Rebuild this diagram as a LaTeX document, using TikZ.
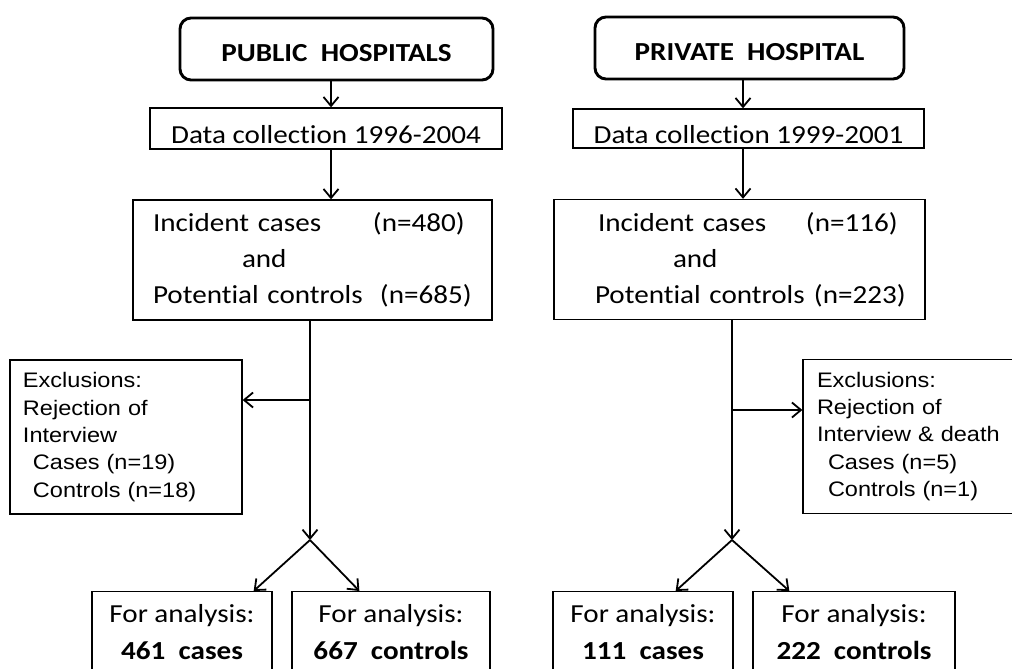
\documentclass[tikz,border=0pt]{standalone}
\usepackage{fontspec}
\setmainfont{Carlito}[FakeStretch=1.12, Ligatures=NoCommon]
\newfontfamily\arialfont{Liberation Sans}[FakeStretch=1.12]
\usetikzlibrary{arrows.meta,calc}

\newcommand{\tabat}[2]{\makebox[0pt][l]{\hspace*{#1}#2}}

\tikzset{
  hospbox/.style={draw, line width=2.9pt, rounded corners=11pt, minimum height=62pt, inner sep=0pt,
    text height=25.4pt, text depth=0pt, font=\bfseries\fontsize{26}{30}\selectfont},
  databox/.style={draw, line width=1.3pt, inner sep=0pt, font=\fontsize{26}{36}\selectfont},
  incbox/.style={databox, align=left, minimum height=120pt},
  exclbox/.style={draw, line width=1.3pt, inner ysep=0pt, align=left, minimum height=154pt,
    font=\arialfont\fontsize{21}{27.3}\selectfont},
  resbox/.style={draw, line width=1.3pt, anchor=north, align=center, inner xsep=0pt, inner ysep=13pt,
    font=\fontsize{26}{37}\selectfont},
  flow/.style={line width=1.8pt, -{Straight Barb[length=9pt,width=15pt]}},
}

\begin{document}
\begin{tikzpicture}[x=1pt, y=-1pt]
  \useasboundingbox (0,0) rectangle (1012,669);
  \clip (0,0) rectangle (1012,669);
  \fill[white] (0,0) rectangle (1012,669);

  % public hospitals
  \node[hospbox, minimum width=313pt] (pubHosp) at (336.5,49) {PUBLIC\ \ HOSPITALS};
  \node[databox, minimum width=352pt, minimum height=41pt, text height=29pt, text depth=0pt] (pubData) at (326,128.5) {Data collection 1996-2004};
  \node[incbox, text width=359pt] (pubInc) at (312.5,260)
    {\tabat{20pt}{Incident cases}\tabat{240pt}{(n=480)}\\
     \tabat{109pt}{and}\\
     \tabat{20pt}{Potential controls}\tabat{247pt}{(n=685)}};
  \node[exclbox, text width=206pt, inner xsep=13pt] (pubExcl) at (126,437)
    {Exclusions:\\ Rejection of\\ Interview\\ \hspace*{10pt}Cases (n=19)\\ \hspace*{10pt}Controls (n=18)};
  \node[resbox, minimum width=180pt] (pubCases) at (182,591) {For analysis:\\ \textbf{461\ \ cases}\rule[-40pt]{0pt}{40pt}};
  \node[resbox, minimum width=198pt] (pubCtrl) at (391,591) {For analysis:\\ \textbf{667\ \ controls}\rule[-40pt]{0pt}{40pt}};

  \coordinate (pubAxis) at (331,0);
  \coordinate (pubSplit) at (310,540);
  \coordinate (pubBranch) at (310,400);
  \draw[flow] (pubAxis |- pubHosp.south) -- (pubAxis |- pubData.north);
  \draw[flow] (pubAxis |- pubData.south) -- (pubAxis |- pubInc.north);
  \draw[flow] (pubSplit |- pubInc.south) -- (pubSplit);
  \draw[flow] (pubBranch) -- (pubBranch -| pubExcl.east);
  \draw[flow] (pubSplit) -- ($(pubCases.north east)+(-19,0)$);
  \draw[flow] (pubSplit) -- ($(pubCtrl.north west)+(68,0)$);

  % private hospital
  \node[hospbox, minimum width=309pt] (prvHosp) at (749.5,48) {PRIVATE\ \ HOSPITAL};
  \node[databox, minimum width=351pt, minimum height=39pt, text height=29pt, text depth=0pt] (prvData) at (748.5,128.5) {Data collection 1999-2001};
  \node[incbox, text width=371pt] (prvInc) at (739.5,259.5)
    {\tabat{44pt}{Incident cases}\tabat{252pt}{(n=116)}\\
     \tabat{119pt}{and}\\
     \tabat{41pt}{Potential controls}\tabat{260pt}{(n=223)}};
  \node[exclbox, text width=202pt, inner xsep=14pt] (prvExcl) at (918,436.5)
    {Exclusions:\\ Rejection of\\ Interview \& death\\ \hspace*{11pt}Cases (n=5)\\ \hspace*{11pt}Controls (n=1)};
  \node[resbox, minimum width=180pt] (prvCases) at (643,591) {For analysis:\\ \textbf{111\ \ cases}\rule[-40pt]{0pt}{40pt}};
  \node[resbox, minimum width=202pt] (prvCtrl) at (854,591) {For analysis:\\ \textbf{222\ \ controls}\rule[-40pt]{0pt}{40pt}};

  \coordinate (prvAxis) at (743,0);
  \coordinate (prvSplit) at (732,540);
  \coordinate (prvBranch) at (732,410);
  \draw[flow] (prvAxis |- prvHosp.south) -- (prvAxis |- prvData.north);
  \draw[flow] (prvAxis |- prvData.south) -- (prvAxis |- prvInc.north);
  \draw[flow] (prvSplit |- prvInc.south) -- (prvSplit);
  \draw[flow] (prvBranch) -- (prvBranch -| prvExcl.west);
  \draw[flow] (prvSplit) -- ($(prvCases.north east)+(-58,0)$);
  \draw[flow] (prvSplit) -- ($(prvCtrl.north west)+(37,0)$);
\end{tikzpicture}
\end{document}
